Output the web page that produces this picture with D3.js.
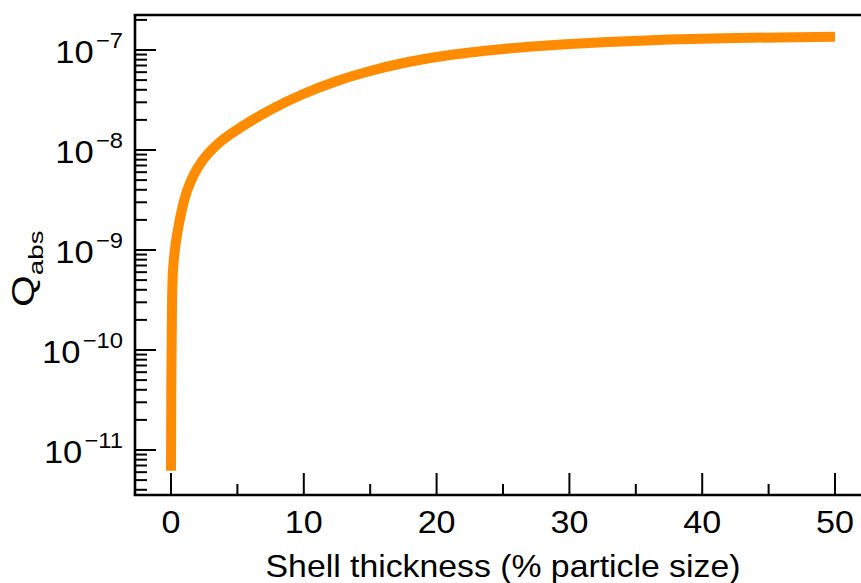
<!DOCTYPE html>
<html>
<head>
<meta charset="utf-8">
<script src="https://cdn.jsdelivr.net/npm/d3@7"></script>
<style>
body { margin: 0; background: #fff; }
svg { display: block; font-family: "Liberation Sans", Arial, sans-serif; }
</style>
</head>
<body>
<svg id="chart"></svg>
<script>
// values
const thickness = [0, 0.08, 0.17, 0.43, 1.23, 2.3, 3.69, 4.95, 7.45, 9.96, 12.5, 15.0, 17.5, 20.0, 22.5, 25.0, 27.5, 30.0, 32.5, 37.5, 42.5, 50];
const qabs = [6.2e-12, 3.16e-10, 6.8e-10, 1.36e-9, 3.98e-9, 7.6e-9, 1.2e-8, 1.585e-8, 2.51e-8, 3.63e-8, 4.9e-8, 6.17e-8, 7.41e-8, 8.51e-8, 9.44e-8, 1.023e-7, 1.09e-7, 1.148e-7, 1.194e-7, 1.27e-7, 1.318e-7, 1.355e-7];
const xMajor = [0, 10, 20, 30, 40, 50];
const xMinor = [5, 15, 25, 35, 45];
const yMajorExp = [-7, -8, -9, -10, -11];
const xTitle = 'Shell thickness (% particle size)';

const width = 861;
const height = 583;
const svg = d3.select('#chart').attr('width', width).attr('height', height);

const margin = { top: 15, right: -10, bottom: 88, left: 135 };
const innerW = width - margin.left - margin.right;
const innerH = height - margin.top - margin.bottom;

const x = d3.scaleLinear().domain([-2.71, 52.71]).range([margin.left, margin.left + innerW]);
const y = d3.scaleLog().domain([Math.pow(10, -11.45), Math.pow(10, -6.65)]).range([margin.top + innerH, margin.top]);

// minor log ticks
const yMinor = [];
for (let e = -12; e <= -7; e++) {
  for (let m = 2; m <= 9; m++) {
    const v = m * Math.pow(10, e);
    if (v >= y.domain()[0] && v <= y.domain()[1]) yMinor.push(v);
  }
}

const data = thickness.map((t, i) => ({ t: t, q: qabs[i] }));

const line = d3.line()
  .x(d => x(d.t))
  .y(d => y(d.q))
  .curve(d3.curveCatmullRom.alpha(0.5));

svg.append('path')
  .datum(data)
  .attr('d', line)
  .attr('fill', 'none')
  .attr('stroke', '#ff8c00')
  .attr('stroke-width', 10)
  .attr('stroke-linecap', 'butt');

// axes: ticks point inward
const yAxis = svg.append('g').attr('transform', `translate(${margin.left},0)`);
yAxis.selectAll('.ymaj').data(yMajorExp).enter().append('line')
  .attr('x1', 0).attr('x2', 21)
  .attr('y1', d => y(Math.pow(10, d))).attr('y2', d => y(Math.pow(10, d)))
  .attr('stroke', '#000').attr('stroke-width', 2);
yAxis.selectAll('.ymin').data(yMinor).enter().append('line')
  .attr('x1', 0).attr('x2', 12)
  .attr('y1', d => y(d)).attr('y2', d => y(d))
  .attr('stroke', '#000').attr('stroke-width', 2);

const ylab = yAxis.selectAll('.ylab').data(yMajorExp).enter().append('text')
  .attr('transform', d => `translate(-12,${y(Math.pow(10, d)) + 13}) scale(1.08,1)`)
  .attr('text-anchor', 'end')
  .style('font-size', '32px');
ylab.append('tspan').text('10');
ylab.append('tspan').attr('dx', 2).attr('dy', -15).style('font-size', '22px').text(d => '\u2212' + Math.abs(d));

const xAxis = svg.append('g').attr('transform', `translate(0,${margin.top + innerH})`);
xAxis.selectAll('.xmaj').data(xMajor).enter().append('line')
  .attr('x1', d => x(d)).attr('x2', d => x(d))
  .attr('y1', 0).attr('y2', -22)
  .attr('stroke', '#000').attr('stroke-width', 2);
xAxis.selectAll('.xmin').data(xMinor).enter().append('line')
  .attr('x1', d => x(d)).attr('x2', d => x(d))
  .attr('y1', 0).attr('y2', -11)
  .attr('stroke', '#000').attr('stroke-width', 2);
xAxis.selectAll('.xlab').data(xMajor).enter().append('text')
  .attr('transform', d => `translate(${x(d)},38) scale(1.1,1)`)
  .attr('text-anchor', 'middle')
  .style('font-size', '31px')
  .text(d => d);

// frame
svg.append('line')
  .attr('x1', margin.left).attr('x2', margin.left)
  .attr('y1', margin.top).attr('y2', margin.top + innerH)
  .attr('stroke', '#000').attr('stroke-width', 2.6);
svg.append('line')
  .attr('x1', margin.left - 1.3).attr('x2', margin.left + innerW)
  .attr('y1', margin.top).attr('y2', margin.top)
  .attr('stroke', '#000').attr('stroke-width', 2.6);
svg.append('line')
  .attr('x1', margin.left - 1.3).attr('x2', margin.left + innerW)
  .attr('y1', margin.top + innerH).attr('y2', margin.top + innerH)
  .attr('stroke', '#000').attr('stroke-width', 2.6);

// titles
svg.append('text')
  .attr('transform', `translate(${margin.left + innerW / 2},577) scale(1.09,1)`)
  .attr('text-anchor', 'middle')
  .style('font-size', '31px')
  .text(xTitle);

const yt = svg.append('text')
  .attr('transform', 'translate(34,307) rotate(-90) scale(1.32,1)')
  .attr('text-anchor', 'start')
  .style('font-size', '31px');
yt.append('tspan').text('Q');
yt.append('tspan').attr('dy', 9).style('font-size', '21px').text('abs');
</script>
</body>
</html>
